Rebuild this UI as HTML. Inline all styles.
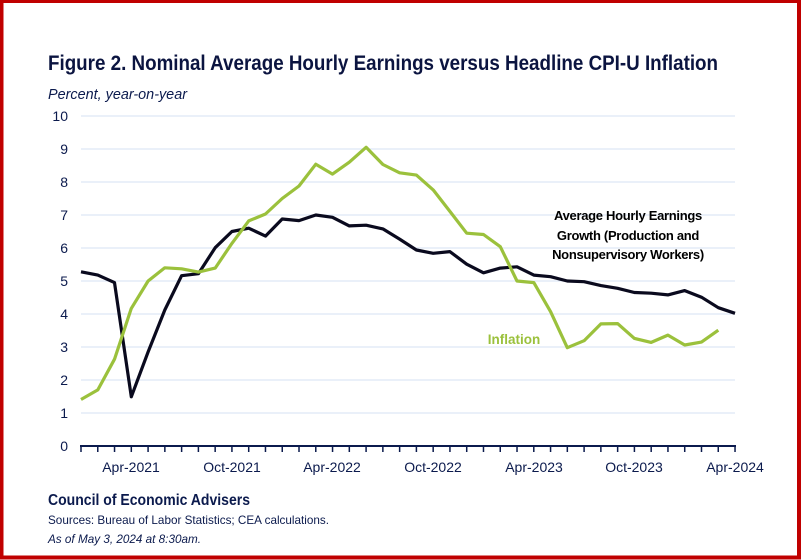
<!DOCTYPE html>
<html><head><meta charset="utf-8"><style>
html,body{margin:0;padding:0;background:#fff}
svg{display:block}
text{font-family:"Liberation Sans",sans-serif;fill:#0b1a4d}
</style></head><body>
<svg id="svg" width="802" height="560" viewBox="0 0 802 560" xmlns="http://www.w3.org/2000/svg">
<rect x="0" y="0" width="802" height="560" fill="#fff"/>
<rect x="1.5" y="1" width="797.5" height="556.5" fill="none" stroke="#c00000" stroke-width="4"/>
<text x="48" y="70" font-size="21" font-weight="bold" textLength="670" lengthAdjust="spacingAndGlyphs" style="fill:#0b1440">Figure 2. Nominal Average Hourly Earnings versus Headline CPI-U Inflation</text>
<text x="48" y="99" font-size="14.5" font-style="italic" textLength="139" lengthAdjust="spacingAndGlyphs">Percent, year-on-year</text>
<g stroke="#dde6f5" stroke-width="1.3">
<line x1="81" x2="735" y1="116" y2="116"/><line x1="81" x2="735" y1="149" y2="149"/>
<line x1="81" x2="735" y1="182" y2="182"/><line x1="81" x2="735" y1="215" y2="215"/>
<line x1="81" x2="735" y1="248" y2="248"/><line x1="81" x2="735" y1="281" y2="281"/>
<line x1="81" x2="735" y1="314" y2="314"/><line x1="81" x2="735" y1="347" y2="347"/>
<line x1="81" x2="735" y1="380" y2="380"/><line x1="81" x2="735" y1="413" y2="413"/>
</g>
<g font-size="14" text-anchor="end">
<text x="68" y="121">10</text><text x="68" y="154">9</text><text x="68" y="187">8</text>
<text x="68" y="220">7</text><text x="68" y="253">6</text><text x="68" y="286">5</text>
<text x="68" y="319">4</text><text x="68" y="352">3</text><text x="68" y="385">2</text>
<text x="68" y="418">1</text><text x="68" y="451">0</text>
</g>
<line x1="80" x2="736" y1="446" y2="446" stroke="#0b1a4d" stroke-width="2"/>
<g id="ticks" stroke="#0b1a4d" stroke-width="1.5"></g>
<g font-size="14" text-anchor="middle">
<text x="131" y="472">Apr-2021</text><text x="232" y="472">Oct-2021</text>
<text x="332" y="472">Apr-2022</text><text x="433" y="472">Oct-2022</text>
<text x="534" y="472">Apr-2023</text><text x="634" y="472">Oct-2023</text>
<text x="735" y="472">Apr-2024</text>
</g>
<polyline id="ahe" fill="none" stroke="#0a0a1e" stroke-width="3.2" stroke-linejoin="round"/>
<polyline id="cpi" fill="none" stroke="#9bc13c" stroke-width="3.2" stroke-linejoin="round"/>
<g font-size="13" font-weight="bold" text-anchor="middle" letter-spacing="-0.3">
<text x="628" y="220" style="fill:#000">Average Hourly Earnings</text>
<text x="628" y="240" style="fill:#000">Growth (Production and</text>
<text x="628" y="259" style="fill:#000">Nonsupervisory Workers)</text>
</g>
<text x="514" y="344" font-size="13.5" font-weight="bold" text-anchor="middle" style="fill:#9bc13c">Inflation</text>
<text x="48" y="505" font-size="15.5" font-weight="bold" textLength="202" lengthAdjust="spacingAndGlyphs">Council of Economic Advisers</text>
<text x="48" y="524" font-size="12" textLength="281" lengthAdjust="spacingAndGlyphs">Sources: Bureau of Labor Statistics; CEA calculations.</text>
<text x="48" y="543" font-size="12" font-style="italic" textLength="153" lengthAdjust="spacingAndGlyphs">As of May 3, 2024 at 8:30am.</text>
<script>
var ahe=[5.28,5.18,4.95,1.49,2.85,4.12,5.16,5.22,6.01,6.5,6.6,6.36,6.88,6.83,7.0,6.93,6.67,6.69,6.58,6.27,5.94,5.84,5.89,5.51,5.25,5.39,5.43,5.18,5.13,5.0,4.98,4.86,4.78,4.65,4.63,4.58,4.71,4.51,4.19,4.02];
var cpi=[1.41,1.7,2.63,4.17,5.0,5.4,5.37,5.27,5.39,6.14,6.82,7.03,7.5,7.88,8.54,8.24,8.6,9.05,8.53,8.28,8.21,7.76,7.11,6.45,6.41,6.04,5.0,4.95,4.07,2.98,3.19,3.7,3.71,3.26,3.14,3.36,3.06,3.15,3.51];
function X(i){return 81+i*16.77}function Y(v){return 446-v*33}
function pts(a){return a.map(function(v,i){return X(i).toFixed(1)+","+Y(v).toFixed(1)}).join(" ")}
document.getElementById("ahe").setAttribute("points",pts(ahe));
document.getElementById("cpi").setAttribute("points",pts(cpi));
var g=document.getElementById("ticks"),NS="http://www.w3.org/2000/svg";
for(var i=0;i<40;i++){var l=document.createElementNS(NS,"line");l.setAttribute("x1",X(i));l.setAttribute("x2",X(i));l.setAttribute("y1","446");l.setAttribute("y2","452");g.appendChild(l);}
</script>
</svg>
</body></html>
